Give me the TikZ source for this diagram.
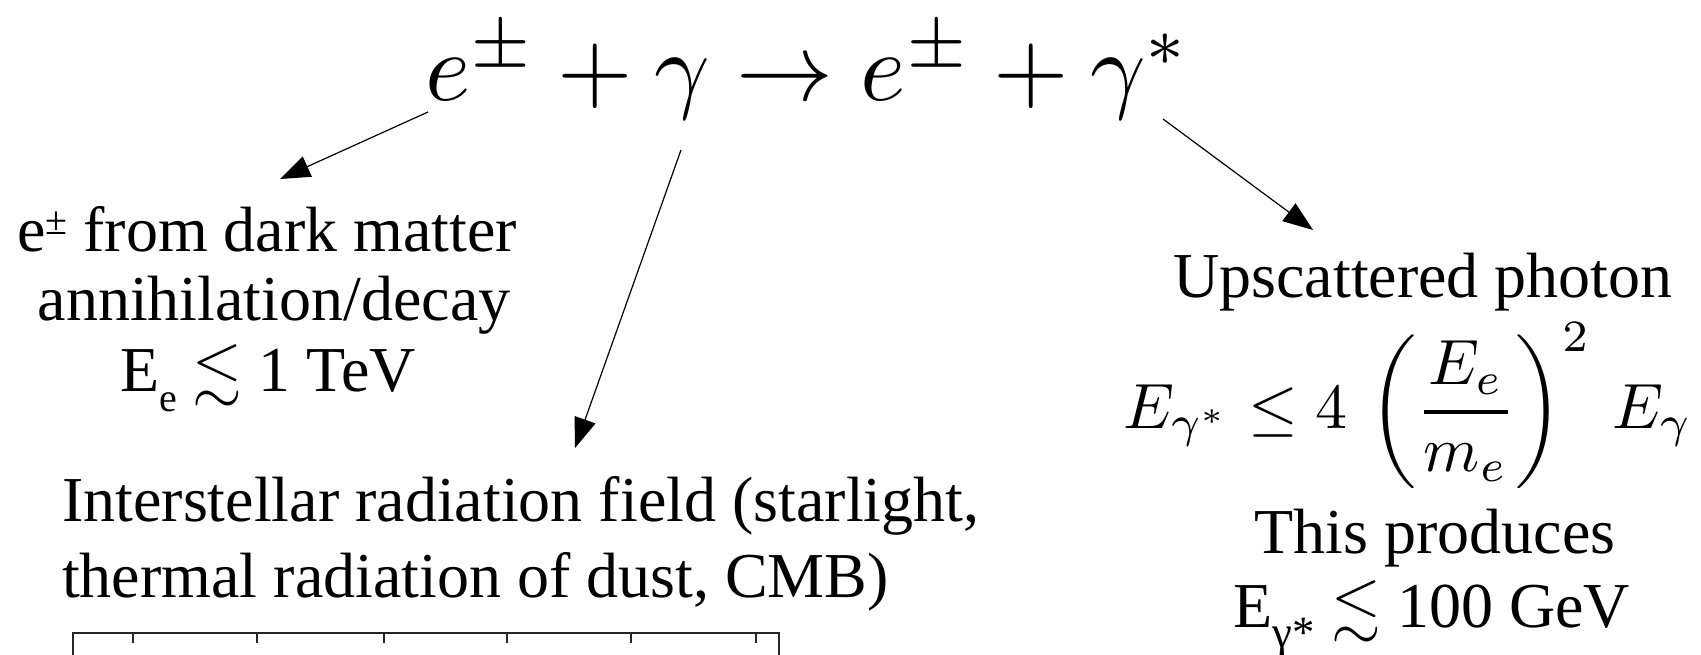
\documentclass[tikz,border=0pt]{standalone}
\usepackage{amsmath,amssymb}
\usepackage{graphicx}
\usepackage{fontspec}
\setmainfont{Liberation Serif}
\usetikzlibrary{arrows.meta}
\begin{document}
\begin{tikzpicture}[x=1pt,y=-1pt,
  lbl/.style={inner sep=0pt, font=\fontsize{64}{70}\selectfont},
  conn/.style={line width=1.2pt, -{Triangle[length=30pt,width=22pt]}},
  axisline/.style={line width=1.6pt, draw=black!85}]
\useasboundingbox (0,0) rectangle (1701,655);
% main equation
\node[inner sep=0pt, anchor=base west] (eq) at (425,101)
  {\scalebox{9.7}{$e^{\pm}+\gamma\rightarrow e^{\pm}+\gamma^{*}$}};
% left text
\node[lbl, anchor=base] (l1) at (267,252) {e\raisebox{0.28em}{\fontsize{40}{40}\selectfont ±} from dark matter};
\node[lbl, anchor=base] (l2) at (274,320) {annihilation/decay};
\node[lbl, anchor=base] (l3) at (268,391) {E\raisebox{-0.32em}{\fontsize{40}{40}\selectfont e} $\lesssim$ 1 TeV};
% middle text
\node[lbl, anchor=base west] (m1) at (62,521) {Interstellar radiation field (starlight,};
\node[lbl, anchor=base west] (m2) at (62,597) {thermal radiation of dust, CMB)};
% right text
\node[lbl, anchor=base] (r1) at (1423,298) {Upscattered photon};
\node[inner sep=0pt, anchor=base] (r2) at (1408,428)
  {\scalebox{6.4}{$E_{\gamma^*}\le 4\,\left(\genfrac{}{}{0.6pt}{0}{E_e}{m_e}\right)^{2}\,E_\gamma$}};
\node[lbl, anchor=base] (r3) at (1435,553) {This produces};
\node[lbl, anchor=base] (r4) at (1432,627) {E\textsubscript{γ*} $\lesssim$ 100 GeV};
% connectors
\coordinate (s1) at (428,112); \coordinate (t1) at (280,179);
\coordinate (s2) at (681,150); \coordinate (t2) at (575,448);
\coordinate (s3) at (1163,119); \coordinate (t3) at (1313,230);
\draw[conn] (s1) -- (t1);
\draw[conn] (s2) -- (t2);
\draw[conn] (s3) -- (t3);
% plot fragment
\draw[axisline] (73,660) -- (73,633) -- (779,633) -- (779,660);
\foreach \x in {133,257,384,507,631,756} \draw[axisline] (\x,633) -- (\x,643);
\end{tikzpicture}
\end{document}
